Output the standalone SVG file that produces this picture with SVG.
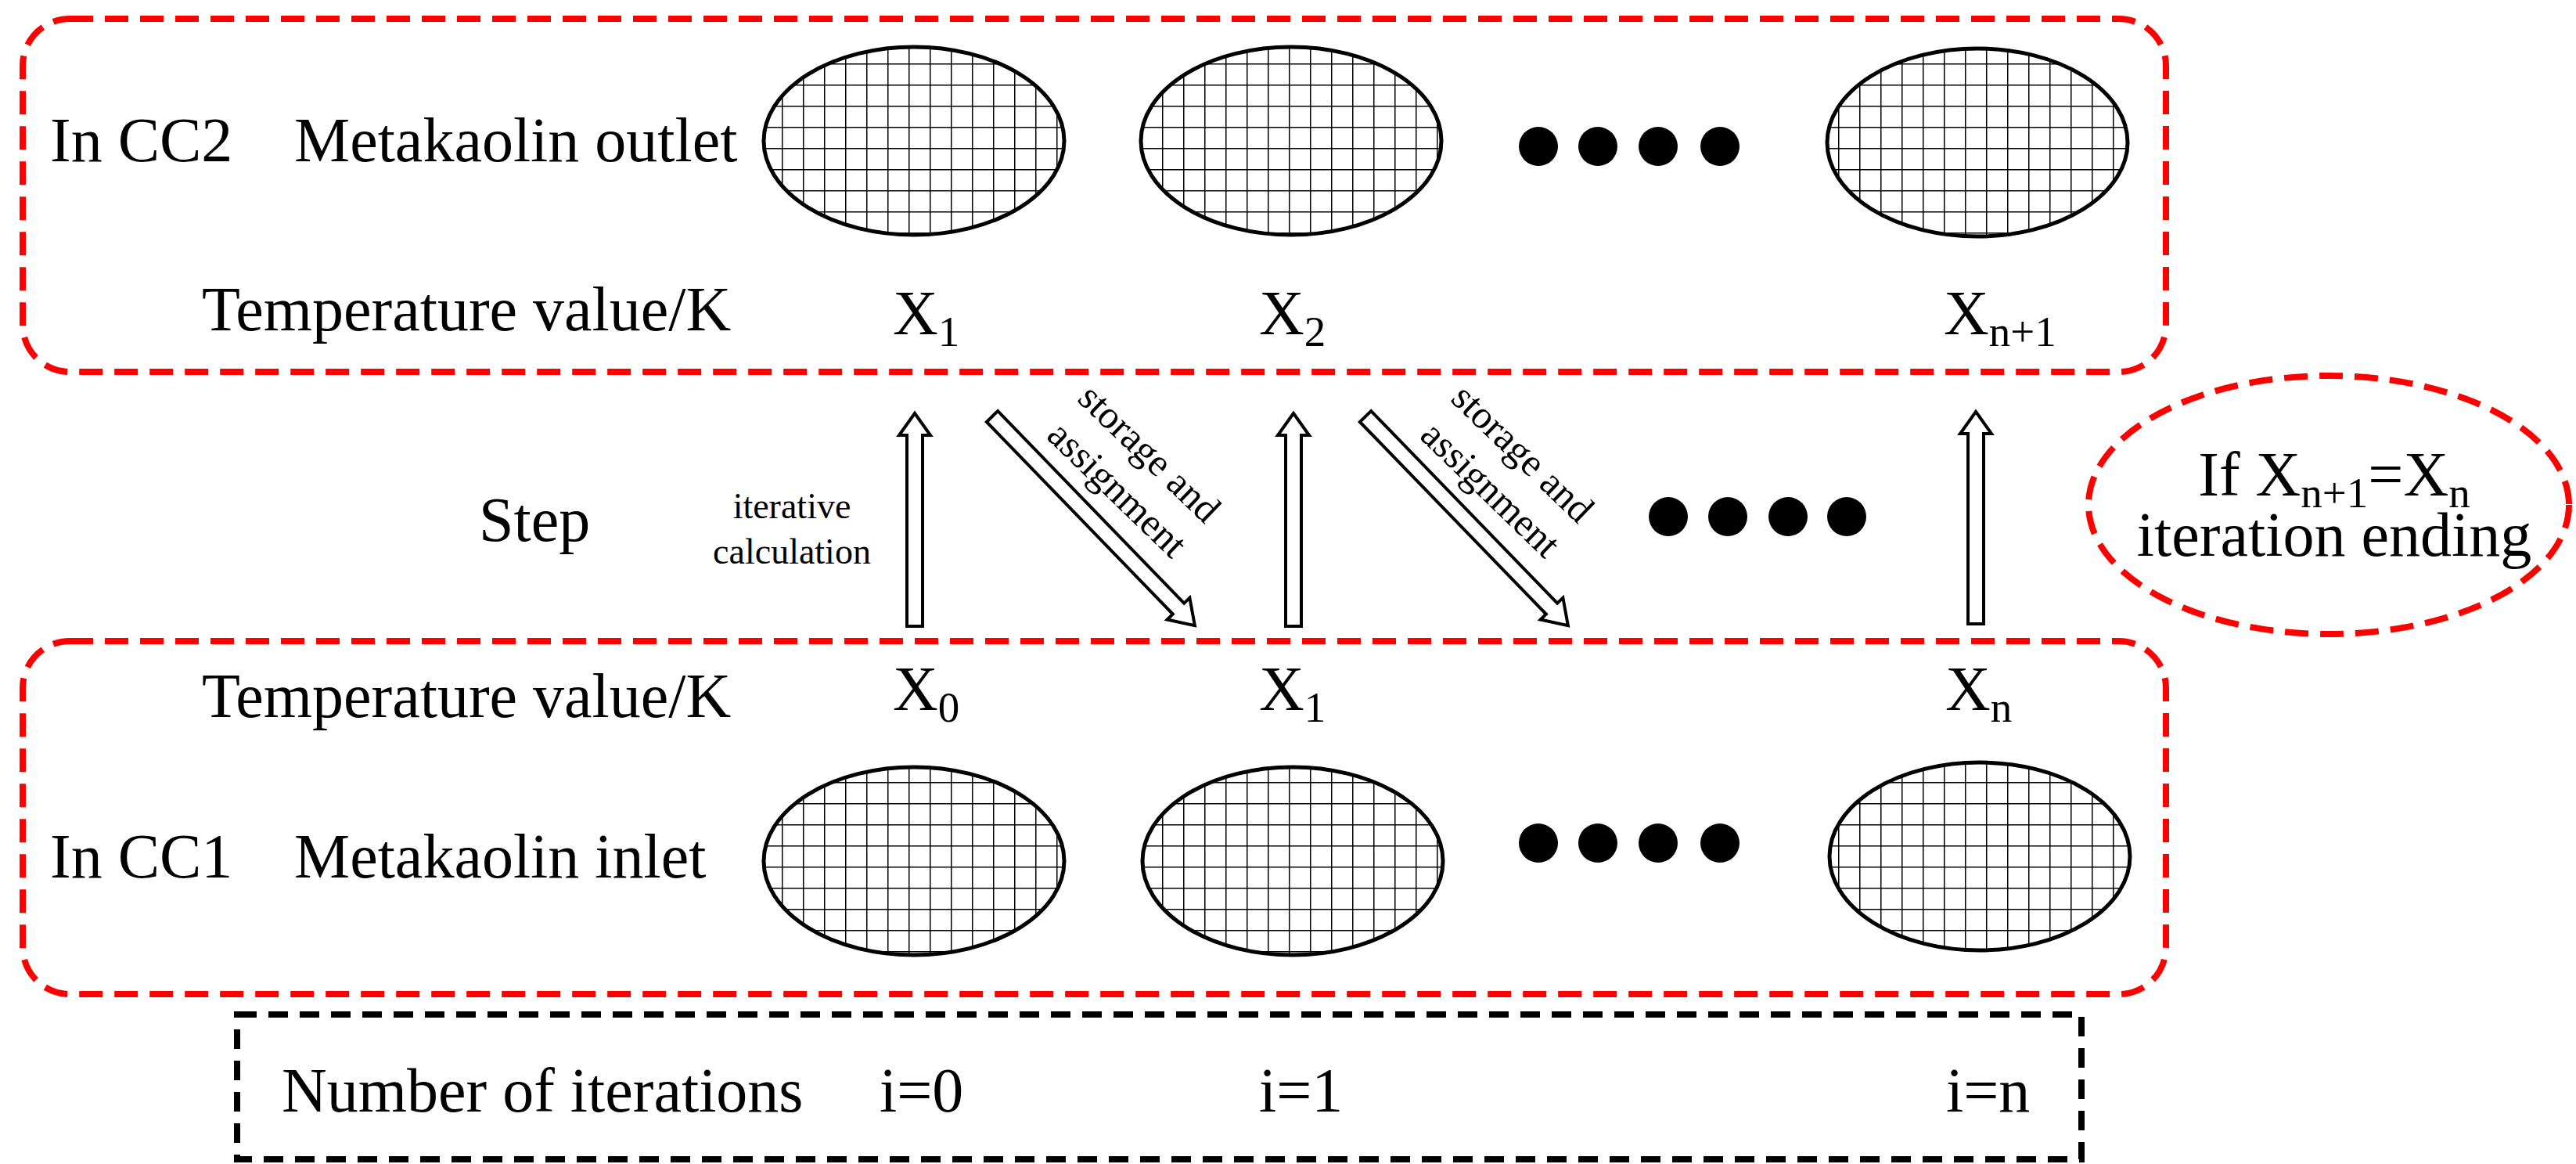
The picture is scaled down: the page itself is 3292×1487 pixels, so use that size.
<svg xmlns="http://www.w3.org/2000/svg" width="3292" height="1487" viewBox="0 0 3292 1487">
<defs>
<pattern id="grid" width="27" height="27" patternUnits="userSpaceOnUse">
<rect width="27" height="27" fill="#fff"/>
<path d="M0 0H27M0 0V27" stroke="#000" stroke-width="3" fill="none"/>
</pattern>
<style>
.t{font-family:"Liberation Serif",serif;font-size:80px;fill:#000}
.s{font-size:55px}
.sm{font-family:"Liberation Serif",serif;font-size:46px;fill:#000}
.dg{font-family:"Liberation Serif",serif;font-size:50px;fill:#000}
.red{fill:none;stroke:#f00;stroke-width:8;stroke-dasharray:30 15}
.blk{fill:none;stroke:#000;stroke-width:8;stroke-dasharray:25 15}
.el{fill:url(#grid);stroke:#000;stroke-width:5}
.ar{fill:#fff;stroke:#000;stroke-width:4}
</style>
</defs>
<g id="box-cc2">
<rect class="red" x="29" y="24" width="2739" height="451" rx="60"/>
<text class="t" x="64" y="206">In CC2</text>
<text class="t" x="376" y="206">Metakaolin outlet</text>
<text class="t" x="258" y="422">Temperature value/K</text>
<ellipse class="el" cx="1168" cy="180" rx="192" ry="120"/>
<ellipse class="el" cx="1650" cy="180" rx="192" ry="120"/>
<ellipse class="el" cx="2527" cy="182" rx="192" ry="120"/>
<circle cx="1966" cy="187" r="25"/><circle cx="2042" cy="187" r="25"/><circle cx="2119" cy="187" r="25"/><circle cx="2198" cy="187" r="25"/>
<text class="t" x="1141" y="427">X<tspan class="s" dy="15">1</tspan></text>
<text class="t" x="1609" y="427">X<tspan class="s" dy="15">2</tspan></text>
<text class="t" x="2484" y="427">X<tspan class="s" dy="15">n+1</tspan></text>
</g>
<g id="box-cc1">
<rect class="red" x="29" y="819" width="2739" height="451" rx="60"/>
<text class="t" x="258" y="916">Temperature value/K</text>
<text class="t" x="64" y="1121">In CC1</text>
<text class="t" x="376" y="1121">Metakaolin inlet</text>
<ellipse class="el" cx="1168" cy="1100" rx="192" ry="120"/>
<ellipse class="el" cx="1652" cy="1100" rx="192" ry="120"/>
<ellipse class="el" cx="2530" cy="1094" rx="192" ry="120"/>
<circle cx="1966" cy="1077" r="25"/><circle cx="2042" cy="1077" r="25"/><circle cx="2119" cy="1077" r="25"/><circle cx="2198" cy="1077" r="25"/>
<text class="t" x="1141" y="907">X<tspan class="s" dy="15">0</tspan></text>
<text class="t" x="1609" y="907">X<tspan class="s" dy="15">1</tspan></text>
<text class="t" x="2486" y="907">X<tspan class="s" dy="15">n</tspan></text>
</g>
<g id="iterations">
<rect class="blk" x="303" y="1296" width="2357" height="185"/>
<text class="t" x="360" y="1420">Number of iterations</text>
<text class="t" x="1124" y="1420">i=0</text>
<text class="t" x="1609" y="1420">i=1</text>
<text class="t" x="2487" y="1420">i=n</text>
</g>
<g id="ending">
<ellipse class="red" cx="2976" cy="645" rx="307" ry="165"/>
<text class="t" x="2983" y="633" text-anchor="middle">If X<tspan class="s" dy="15">n+1</tspan><tspan dy="-15">=X</tspan><tspan class="s" dy="15">n</tspan></text>
<text class="t" x="2983" y="710" text-anchor="middle">iteration ending</text>
</g>
<g id="step">
<text class="t" x="612" y="691">Step</text>
<text class="sm" x="1012" y="662" text-anchor="middle">iterative</text>
<text class="sm" x="1012" y="720" text-anchor="middle">calculation</text>
<circle cx="2132" cy="660" r="25"/><circle cx="2208" cy="660" r="25"/><circle cx="2285" cy="660" r="25"/><circle cx="2360" cy="660" r="25"/>
</g>
<g id="connectors">
<polygon class="ar" points="1159,800 1159,556 1149,556 1169,528 1189,556 1179,556 1179,800"/>
<polygon class="ar" points="1643,800 1643,556 1633,556 1653,528 1673,556 1663,556 1663,800"/>
<polygon class="ar" points="2515,797 2515,554 2505,554 2525,526 2545,554 2535,554 2535,797"/>
<g transform="translate(1268,532) rotate(45.9)">
<polygon class="ar" points="0,-10 342,-10 342,-20 372,0 342,20 342,10 0,10"/>
</g>
<g transform="translate(1745,532) rotate(45.9)">
<polygon class="ar" points="0,-10 342,-10 342,-20 372,0 342,20 342,10 0,10"/>
</g>
<text class="dg" transform="translate(1468,580) rotate(44)" text-anchor="middle" dy="15">storage and</text>
<text class="dg" transform="translate(1427,626) rotate(44)" text-anchor="middle" dy="15">assignment</text>
<text class="dg" transform="translate(1945,580) rotate(44)" text-anchor="middle" dy="15">storage and</text>
<text class="dg" transform="translate(1904,626) rotate(44)" text-anchor="middle" dy="15">assignment</text>
</g>
</svg>
